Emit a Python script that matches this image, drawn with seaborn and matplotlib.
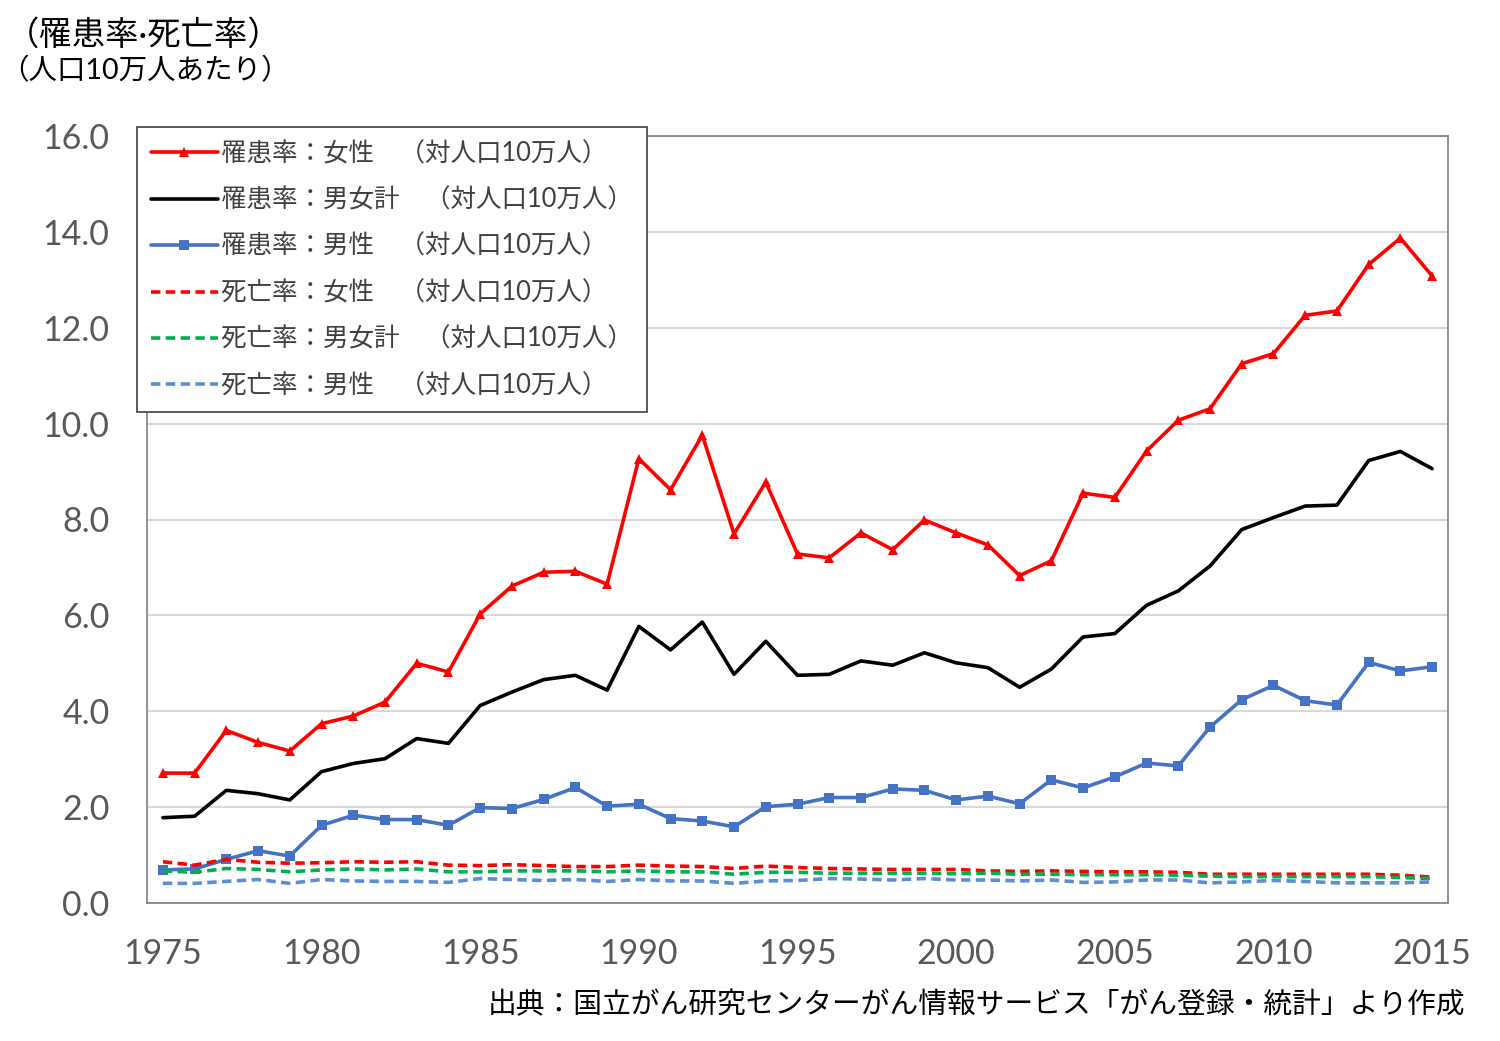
import matplotlib
matplotlib.use('Agg')
import matplotlib.pyplot as plt
import numpy as np
import pandas as pd
import seaborn as sns

years = list(range(1975, 2016))

# 罹患率
inc_female = [2.71, 2.71, 3.60, 3.35, 3.17, 3.74, 3.90, 4.19, 5.00, 4.82,
              6.03, 6.61, 6.90, 6.92, 6.65, 9.27, 8.62, 9.76, 7.70, 8.78,
              7.28, 7.20, 7.72, 7.37, 7.99, 7.72, 7.47, 6.83, 7.14, 8.55,
              8.46, 9.43, 10.07, 10.31, 11.25, 11.46, 12.26, 12.35, 13.32, 13.87,
              13.08]
inc_total = [1.78, 1.81, 2.35, 2.28, 2.15, 2.74, 2.91, 3.01, 3.43, 3.33,
             4.12, 4.40, 4.66, 4.75, 4.44, 5.77, 5.28, 5.86, 4.77, 5.46,
             4.75, 4.77, 5.05, 4.96, 5.22, 5.01, 4.91, 4.50, 4.88, 5.55,
             5.62, 6.21, 6.51, 7.03, 7.79, 8.04, 8.28, 8.30, 9.23, 9.42,
             9.06]
inc_male = [0.69, 0.71, 0.91, 1.09, 0.98, 1.62, 1.83, 1.74, 1.74, 1.62,
            1.99, 1.97, 2.16, 2.41, 2.02, 2.06, 1.76, 1.71, 1.59, 2.01,
            2.06, 2.20, 2.20, 2.38, 2.35, 2.15, 2.23, 2.07, 2.57, 2.40,
            2.63, 2.92, 2.86, 3.67, 4.24, 4.54, 4.22, 4.13, 5.02, 4.84,
            4.93]

# 死亡率
mort_female = [0.86, 0.79, 0.91, 0.85, 0.83, 0.84, 0.86, 0.85, 0.86, 0.79,
               0.78, 0.80, 0.78, 0.76, 0.76, 0.79, 0.77, 0.76, 0.72, 0.77,
               0.74, 0.72, 0.71, 0.70, 0.70, 0.70, 0.67, 0.66, 0.67, 0.66,
               0.65, 0.65, 0.64, 0.60, 0.60, 0.60, 0.60, 0.60, 0.60, 0.58,
               0.54]
mort_total = [0.67, 0.64, 0.72, 0.70, 0.65, 0.69, 0.71, 0.69, 0.71, 0.65,
              0.65, 0.67, 0.67, 0.67, 0.65, 0.67, 0.65, 0.65, 0.60, 0.64,
              0.64, 0.62, 0.62, 0.62, 0.62, 0.61, 0.62, 0.60, 0.60, 0.59,
              0.59, 0.59, 0.58, 0.56, 0.55, 0.55, 0.55, 0.55, 0.55, 0.53,
              0.51]
mort_male = [0.41, 0.41, 0.45, 0.49, 0.41, 0.49, 0.46, 0.45, 0.45, 0.43,
             0.51, 0.49, 0.47, 0.49, 0.45, 0.49, 0.46, 0.46, 0.41, 0.46,
             0.47, 0.51, 0.50, 0.48, 0.51, 0.48, 0.48, 0.46, 0.48, 0.43,
             0.44, 0.48, 0.48, 0.42, 0.44, 0.47, 0.45, 0.42, 0.42, 0.42,
             0.44]

labels = ['罹患率：女性　（対人口10万人）',
          '罹患率：男女計　（対人口10万人）',
          '罹患率：男性　（対人口10万人）',
          '死亡率：女性　（対人口10万人）',
          '死亡率：男女計　（対人口10万人）',
          '死亡率：男性　（対人口10万人）']

sns.set_theme(style='white')
plt.rcParams['font.family'] = ['Lato', 'Noto Sans CJK JP', 'DejaVu Sans']

fig = plt.figure(figsize=(15, 10.41), dpi=100)
ax = fig.add_axes([147 / 1500, 1 - 903 / 1041, 1301 / 1500, 767 / 1041])

dash = (0, (2.6, 1.5))
series = [
    (inc_female, dict(color='#FF0000', marker='^', markersize=7.5, linestyle='-')),
    (inc_total, dict(color='#000000', linestyle='-')),
    (inc_male, dict(color='#4472C4', marker='s', markersize=7, linestyle='-')),
    (mort_female, dict(color='#FF0000', linestyle=dash)),
    (mort_total, dict(color='#00B050', linestyle=dash)),
    (mort_male, dict(color='#5B8FD0', linestyle=dash)),
]
for (vals, kw), lab in zip(series, labels):
    sns.lineplot(x=years, y=vals, ax=ax, label=lab, linewidth=2.6,
                 markeredgewidth=0, **kw)

ax.set_xlim(1974.5, 2015.5)
ax.set_ylim(0, 16)
ax.set_xticks(range(1975, 2016, 5))
ax.set_yticks(np.arange(0, 16.1, 2))
ax.set_yticklabels([f'{v:.1f}' for v in np.arange(0, 16.1, 2)])
ax.tick_params(axis='both', length=0, labelsize=24.5, labelcolor='#595959')
ax.tick_params(axis='y', pad=27)
ax.tick_params(axis='x', pad=25)
ax.yaxis.grid(True, color='#D9D9D9', linewidth=1.5)
ax.set_axisbelow(True)
for sp in ax.spines.values():
    sp.set_color('#7F7F7F')
    sp.set_linewidth(1.2)
ax.set_xlabel('')
ax.set_ylabel('')

leg = ax.legend(loc='upper left', bbox_to_anchor=(137 / 1500, 1 - 127 / 1041),
                bbox_transform=fig.transFigure, borderaxespad=0, fontsize=18.4,
                handlelength=2.6, handletextpad=0.15, labelspacing=0.84,
                borderpad=0.55, fancybox=False, framealpha=1, labelcolor='#404040')
leg.get_frame().set_edgecolor('#404040')
leg.get_frame().set_linewidth(1.2)

fig.text(0.004, 1 - 35 / 1041, '（罹患率·死亡率）', fontsize=24, va='center',
         color='#000000')
fig.text(0.0, 1 - 71 / 1041, '（人口10万人あたり）', fontsize=20.5, va='center',
         color='#000000')
fig.text(1465 / 1500, 1 - 1005 / 1041,
         '出典：国立がん研究センターがん情報サービス「がん登録・統計」より作成',
         fontsize=20.7, ha='right', va='center', color='#000000')

fig.savefig('out.png', dpi=100)
